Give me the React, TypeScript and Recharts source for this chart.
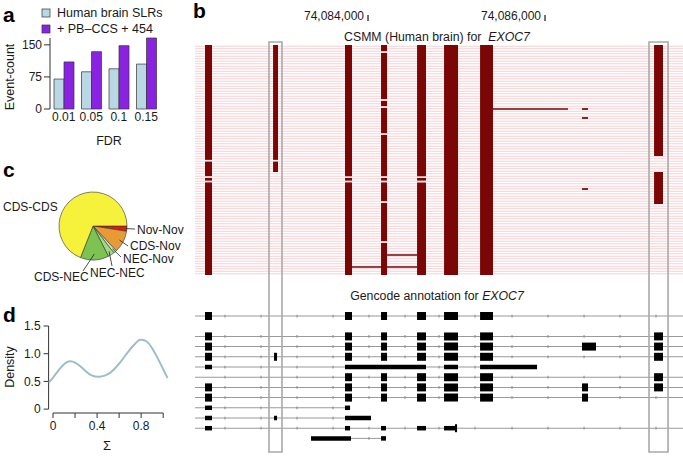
import React from 'react';
import {
  BarChart, Bar, XAxis, YAxis, PieChart, Pie, Cell, LineChart, Line,
  ComposedChart, ReferenceArea, ReferenceLine,
} from 'recharts';

const FONT = '"Liberation Sans", Arial, Helvetica, sans-serif';

// ---------- Panel a ----------
const FDR_LEVELS = ['0.01', '0.05', '0.1', '0.15'];
const SLR_COUNTS = [70, 87, 94, 105];
const COMBINED_COUNTS = [110, 134, 148, 166];
const BAR_TICKS = [0, 75, 150];
const SERIES_NAMES = ['Human brain SLRs', '+ PB\u2013CCS + 454'];
const SERIES_COLORS = ['#bad8e4', '#8a22e2'];

// ---------- Panel c ----------
const CLASS_NAMES = ['Nov-Nov', 'CDS-Nov', 'NEC-Nov', 'NEC-NEC', 'CDS-NEC', 'CDS-CDS'];
const CLASS_SHARES = [2.5, 10.5, 1.5, 3, 13.5, 69];
const CLASS_COLORS = ['#e3190f', '#e89b34', '#cde9b2', '#a6d884', '#7cc352', '#f6f13a'];

// ---------- Panel d ----------
const SIGMA = [-0.04, 0, 0.05, 0.1, 0.15, 0.2, 0.25, 0.3, 0.35, 0.425, 0.5, 0.55, 0.6, 0.65, 0.7, 0.75, 0.79, 0.85, 0.9, 0.95, 1.0, 1.04];
const DENSITY = [0.48, 0.57, 0.7, 0.81, 0.865, 0.84, 0.77, 0.68, 0.61, 0.585, 0.63, 0.71, 0.82, 0.95, 1.08, 1.19, 1.25, 1.22, 1.1, 0.92, 0.72, 0.56];
const SIGMA_TICKS = [0, 0.2, 0.4, 0.6, 0.8, 1.0];
const SIGMA_LABELS = [0, 0.4, 0.8];
const DENSITY_TICKS = [0, 0.5, 1.0, 1.5];

// ---------- Panel b ----------
const VIEW_START = 74082045;
const VIEW_END = 74087559;
const COORD_TICKS = [74084000, 74086000];
const CSMM_READS = 92;
// exon columns of the CSMM track
const CSMM_COLUMNS: { start: number; end: number; from: number; to: number; breaks: number[] }[] = [
  { start: 74082158, end: 74082237, from: 0, to: 92, breaks: [46.3, 52.8, 54.6] },
  { start: 74082927, end: 74082983, from: 0, to: 50.8, breaks: [46.3] },
  { start: 74083740, end: 74083819, from: 0, to: 92, breaks: [52.8, 54.6] },
  { start: 74084147, end: 74084215, from: 0, to: 92, breaks: [2.8, 22, 24.8, 35.6, 52.8, 54.6, 62.8, 78.8] },
  { start: 74084554, end: 74084655, from: 0, to: 92, breaks: [52.8, 54.6] },
  { start: 74084859, end: 74085017, from: 0, to: 92, breaks: [] },
  { start: 74085266, end: 74085412, from: 0, to: 92, breaks: [] },
  { start: 74087232, end: 74087333, from: 0, to: 44.4, breaks: [] },
  { start: 74087232, end: 74087333, from: 50.8, to: 63.6, breaks: [] },
];
const CSMM_JUNCTIONS = [
  { start: 74085412, end: 74086260, read: 25.6 },
  { start: 74084215, end: 74084554, read: 84 },
  { start: 74083819, end: 74084554, read: 88.8 },
];
const CSMM_FRAGMENTS = [
  { start: 74086418, end: 74086486, read: 25.6 },
  { start: 74086418, end: 74086486, read: 29.2 },
  { start: 74086418, end: 74086486, read: 57.6 },
];
const HIGHLIGHTS = [
  [74082881, 74083028],
  [74087175, 74087390],
];
// Gencode transcripts: slot, line extent, blocks [start, end, tall?1:0]
const GENCODE: { slot: number; from: number; to: number; blocks: number[][] }[] = [
  { slot: 0, from: VIEW_START, to: VIEW_END, blocks: [[74082158, 74082237, 1], [74083740, 74083819, 1], [74084147, 74084215, 1], [74084554, 74084655, 1], [74084859, 74085017, 1], [74085266, 74085412, 1]] },
  { slot: 2, from: VIEW_START, to: VIEW_END, blocks: [[74082158, 74082237, 1], [74083740, 74083819, 1], [74084147, 74084215, 1], [74084554, 74084655, 1], [74084859, 74085017, 1], [74085266, 74085412, 1], [74087232, 74087333, 1]] },
  { slot: 3, from: VIEW_START, to: VIEW_END, blocks: [[74082158, 74082237, 1], [74083740, 74083819, 1], [74084147, 74084215, 1], [74084554, 74084655, 1], [74084859, 74085017, 1], [74085266, 74085412, 1], [74086418, 74086576, 1], [74087232, 74087333, 1]] },
  { slot: 4, from: VIEW_START, to: VIEW_END, blocks: [[74082158, 74082237, 1], [74082938, 74082972, 1], [74083740, 74083819, 1], [74084147, 74084215, 1], [74084554, 74084655, 1], [74084859, 74085017, 1], [74085266, 74085412, 1], [74087232, 74087333, 1]] },
  { slot: 5, from: VIEW_START, to: 74085910, blocks: [[74082158, 74082237, 0], [74083740, 74084655, 0], [74084859, 74085017, 0], [74085266, 74085910, 0]] },
  { slot: 6, from: VIEW_START, to: VIEW_END, blocks: [[74083740, 74083819, 1], [74084147, 74084215, 1], [74084554, 74084655, 1], [74084859, 74085017, 1], [74085266, 74085412, 1], [74087232, 74087333, 1]] },
  { slot: 7, from: VIEW_START, to: VIEW_END, blocks: [[74082158, 74082237, 1], [74083740, 74083819, 1], [74084147, 74084215, 1], [74084554, 74084655, 1], [74084859, 74085017, 1], [74085266, 74085412, 1], [74086418, 74086486, 1], [74087232, 74087333, 1]] },
  { slot: 8, from: VIEW_START, to: VIEW_END, blocks: [[74082158, 74082237, 1], [74083740, 74083819, 1], [74084147, 74084215, 1], [74084554, 74084655, 1], [74084859, 74085017, 1], [74085266, 74085412, 1], [74086418, 74086486, 1]] },
  { slot: 9, from: VIEW_START, to: 74083797, blocks: [[74082158, 74082237, 0], [74083740, 74083797, 0]] },
  { slot: 10, from: VIEW_START, to: 74084034, blocks: [[74082158, 74082237, 0], [74082938, 74082972, 0], [74083740, 74084034, 0]] },
  { slot: 11, from: VIEW_START, to: VIEW_END, blocks: [[74082158, 74082237, 0], [74083740, 74083797, 0], [74084147, 74084203, 0], [74084554, 74084655, 0], [74084859, 74084990, 0], [74084983, 74085006, 1]] },
  { slot: 12, from: 74083808, to: 74084147, blocks: [[74083356, 74083808, 0], [74084147, 74084203, 0]] },
];
const INTRON_MARKS = [74082384, 74082791, 74083198, 74083605, 74084011, 74084418, 74084802, 74085209, 74085627, 74086034, 74086441, 74086847, 74087254];

// ---------- layout constants (not data) ----------
const READ_BREAK = 0.7;
const GENCODE_TOP = 108.4;
const GENCODE_PITCH = 4.08;
const EXON_RED = '#7a0606';
const READ_LINE = '#f5d0d3';

const barData = FDR_LEVELS.map((f, i) => ({ fdr: f, slr: SLR_COUNTS[i], combined: COMBINED_COUNTS[i] }));
const pieData = CLASS_NAMES.map((n, i) => ({ name: n, value: CLASS_SHARES[i] }));
const densityData = SIGMA.map((s, i) => ({ x: s, y: DENSITY[i] }));

const PIE_LABELS: Record<string, { tx: number; ty: number; lx?: number; ly?: number; r?: number }> = {
  'Nov-Nov': { tx: 44, ty: 8, lx: 42, ly: 3, r: 33 },
  'CDS-Nov': { tx: 37, ty: 24, lx: 35, ly: 20, r: 30 },
  'NEC-Nov': { tx: 30, ty: 36.5, lx: 28, ly: 31, r: 30 },
  'NEC-NEC': { tx: -3, ty: 51, lx: 19, ly: 40, r: 30 },
  'CDS-NEC': { tx: -59, ty: 54.5, lx: -10, ly: 45, r: 28 },
  'CDS-CDS': { tx: -90, ty: -15 },
};

const PieLabel = (props: any) => {
  const { cx, cy, midAngle, name } = props;
  const p = PIE_LABELS[name];
  if (!p) return null;
  const RAD = Math.PI / 180;
  return (
    <g>
      {p.r !== undefined && (
        <line
          x1={cx + p.r * Math.cos(-midAngle * RAD)}
          y1={cy + p.r * Math.sin(-midAngle * RAD)}
          x2={cx + (p.lx as number)}
          y2={cy + (p.ly as number)}
          stroke="#222"
          strokeWidth={0.8}
        />
      )}
      <text x={cx + p.tx} y={cy + p.ty} fontSize={12} fontFamily={FONT} fill="#1a1a1a" textAnchor="start">
        {name}
      </text>
    </g>
  );
};

const CoordTick = (props: any) => {
  const { x, payload } = props;
  return (
    <text x={x - 4} y={20} textAnchor="end" fontSize={12} fontFamily={FONT} fill="#1a1a1a">
      {Number(payload.value).toLocaleString('en-US')}
    </text>
  );
};

function columnSegments(c: { from: number; to: number; breaks: number[] }) {
  const segs: [number, number][] = [];
  let s = c.from;
  for (const b of c.breaks) {
    segs.push([s, b - READ_BREAK / 2]);
    s = b + READ_BREAK / 2;
  }
  segs.push([s, c.to]);
  return segs;
}

const slotY = (slot: number) => GENCODE_TOP + GENCODE_PITCH * slot;

function GenomeTrack() {
  const areas: React.ReactElement[] = [];
  let k = 0;
  const ra = (x1: number, x2: number, y1: number, y2: number, fill: string) => {
    areas.push(
      <ReferenceArea key={k++} x1={x1} x2={x2} y1={y1} y2={y2} fill={fill} fillOpacity={1} stroke="none" ifOverflow="visible" />
    );
  };
  for (let r = 0; r < CSMM_READS; r++) {
    ra(VIEW_START, VIEW_END, r + 0.3, r + 0.7, READ_LINE);
  }
  CSMM_COLUMNS.forEach((c) => {
    columnSegments(c).forEach(([a, b]) => ra(c.start, c.end, a, b, EXON_RED));
  });
  CSMM_JUNCTIONS.forEach((j) => ra(j.start, j.end, j.read - 0.3, j.read + 0.3, EXON_RED));
  CSMM_FRAGMENTS.forEach((f) => ra(f.start, f.end, f.read - 0.35, f.read + 0.35, EXON_RED));
  GENCODE.forEach((t) => {
    const yc = slotY(t.slot);
    ra(t.from, t.to, yc - 0.2, yc + 0.2, '#9a9a9a');
    INTRON_MARKS.forEach((m) => {
      if (m <= t.from || m >= t.to) return;
      if (t.blocks.some((b) => m >= b[0] - 20 && m <= b[1] + 20)) return;
      ra(m - 6, m + 6, yc - 0.55, yc + 0.55, '#8a8a8a');
    });
    t.blocks.forEach((b) => {
      const h = b[2] ? 1.6 : 0.9;
      ra(b[0], b[1], yc - h, yc + h, '#000');
    });
  });
  HIGHLIGHTS.forEach(([a, b]) => {
    areas.push(
      <ReferenceArea key={k++} x1={a} x2={b} y1={-1.2} y2={162.8} fill="none" fillOpacity={0} stroke="#a9a9a9" strokeWidth={1.6} ifOverflow="visible" />
    );
  });

  return (
    <ComposedChart width={488} height={456} margin={{ top: 0, right: 0, bottom: 0, left: 0 }} data={[{ x: VIEW_START }, { x: VIEW_END }]}>
      <XAxis
        dataKey="x"
        type="number"
        orientation="top"
        domain={[VIEW_START, VIEW_END]}
        ticks={COORD_TICKS}
        height={21}
        axisLine={false}
        tickSize={6}
        tickLine={{ stroke: '#222', strokeWidth: 1.3 }}
        tick={<CoordTick />}
        allowDataOverflow
      />
      <YAxis type="number" domain={[-9.6, 164.4]} reversed hide allowDataOverflow />
      {areas}
    </ComposedChart>
  );
}

export default function App() {
  const tickStyle = { fontSize: 12, fill: '#1a1a1a', fontFamily: FONT };
  return (
    <div style={{ position: 'absolute', left: 0, top: 0, width: 683, height: 456, background: '#fff', overflow: 'hidden' }}>
      {/* Panel a */}
      <div style={{ position: 'absolute', left: 0, top: 0 }}>
        <BarChart width={160} height={150} data={barData} margin={{ top: 38, right: 0, bottom: 21, left: 0 }} barGap={0} barSize={10}>
          <XAxis dataKey="fdr" axisLine={false} tickLine={false} tickSize={0} tickMargin={3} height={20} interval={0} tick={tickStyle} />
          <YAxis width={50} domain={[0, 'dataMax']} ticks={BAR_TICKS} tickSize={6} tickMargin={2} axisLine={{ stroke: '#333' }} tickLine={{ stroke: '#333' }} tick={tickStyle} />
          <Bar dataKey="slr" name={SERIES_NAMES[0]} fill={SERIES_COLORS[0]} stroke="#333" strokeWidth={0.7} isAnimationActive={false} />
          <Bar dataKey="combined" name={SERIES_NAMES[1]} fill={SERIES_COLORS[1]} stroke="#333" strokeWidth={0.7} isAnimationActive={false} />
        </BarChart>
      </div>

      {/* Panel c */}
      <div style={{ position: 'absolute', left: 0, top: 180 }}>
        <PieChart width={190} height={110} margin={{ top: 0, right: 0, bottom: 0, left: 0 }}>
          <Pie data={pieData} dataKey="value" nameKey="name" cx={93} cy={46} outerRadius={34} startAngle={0} endAngle={-360} stroke="#333" strokeWidth={0.6} label={PieLabel} labelLine={false} isAnimationActive={false}>
            {pieData.map((d, i) => (
              <Cell key={d.name} fill={CLASS_COLORS[i]} />
            ))}
          </Pie>
        </PieChart>
      </div>

      {/* Panel d */}
      <div style={{ position: 'absolute', left: 0, top: 300 }}>
        <LineChart width={175} height={143} data={densityData} margin={{ top: 26, right: 7.4, bottom: 0, left: 0 }}>
          <XAxis dataKey="x" type="number" domain={[-0.04, 1.04]} ticks={SIGMA_TICKS} tickFormatter={(v: number) => (SIGMA_LABELS.includes(v) ? String(v) : '')} height={30} axisLine={false} tickSize={5} tickMargin={3} tickLine={{ stroke: '#333' }} tick={tickStyle} interval={0} />
          <YAxis type="number" domain={[-0.07, 1.5]} ticks={DENSITY_TICKS} tickFormatter={(v: number) => (v === 0 ? '0' : v.toFixed(1))} width={48.6} axisLine={false} tickSize={5} tickMargin={3} tickLine={{ stroke: '#333' }} tick={tickStyle} interval={0} />
          <ReferenceLine segment={[{ x: -0.04, y: 0 }, { x: -0.04, y: 1.5 }]} stroke="#333" ifOverflow="visible" />
          <ReferenceLine segment={[{ x: 0, y: -0.07 }, { x: 1, y: -0.07 }]} stroke="#333" ifOverflow="visible" />
          <Line dataKey="y" type="natural" stroke="#9dbdcc" strokeWidth={2} dot={false} isAnimationActive={false} />
        </LineChart>
      </div>

      {/* Panel b */}
      <div style={{ position: 'absolute', left: 195, top: 0 }}>
        <GenomeTrack />
      </div>

      {/* text overlay */}
      <svg width={683} height={456} style={{ position: 'absolute', left: 0, top: 0, pointerEvents: 'none' }} fontFamily={FONT}>
        <text x={3} y={22} fontSize={21} fontWeight="bold">a</text>
        <text x={193} y={18} fontSize={21} fontWeight="bold">b</text>
        <text x={3} y={177} fontSize={21} fontWeight="bold">c</text>
        <text x={3} y={322} fontSize={21} fontWeight="bold">d</text>
        <rect x={42} y={9} width={8} height={8} fill={SERIES_COLORS[0]} stroke="#333" strokeWidth={0.7} />
        <rect x={42} y={25} width={8} height={8} fill={SERIES_COLORS[1]} stroke="#333" strokeWidth={0.7} />
        <text x={57} y={17} fontSize={12.5} fill="#1a1a1a">{SERIES_NAMES[0]}</text>
        <text x={57} y={33} fontSize={12.5} fill="#1a1a1a">{SERIES_NAMES[1]}</text>
        <text x={14} y={77} fontSize={12.5} fill="#1a1a1a" textAnchor="middle" transform="rotate(-90 14 77)">Event-count</text>
        <text x={109} y={145} fontSize={12.5} fill="#1a1a1a" textAnchor="middle">FDR</text>
        <text x={14} y={367} fontSize={12.5} fill="#1a1a1a" textAnchor="middle" transform="rotate(-90 14 367)">Density</text>
        <text x={107} y={450} fontSize={13} fill="#1a1a1a" textAnchor="middle">{'\u03A3'}</text>
        <text x={437} y={41} fontSize={12.3} fill="#1a1a1a" textAnchor="middle" xmlSpace="preserve">
          CSMM (Human brain) for  <tspan fontStyle="italic">EXOC7</tspan>
        </text>
        <text x={437} y={300} fontSize={12.3} fill="#1a1a1a" textAnchor="middle">
          Gencode annotation for <tspan fontStyle="italic">EXOC7</tspan>
        </text>
      </svg>
    </div>
  );
}
